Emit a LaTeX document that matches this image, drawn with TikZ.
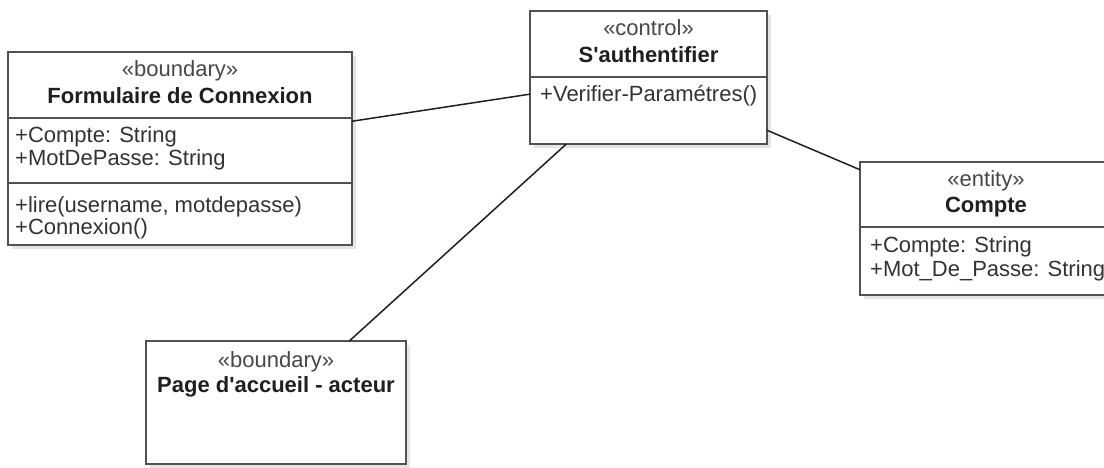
\documentclass[tikz,border=0pt]{standalone}
\usepackage{fontspec}
\setmainfont{Liberation Sans}
\usetikzlibrary{shadows}
\begin{document}
\begin{tikzpicture}[x=1pt,y=-1pt,
  classbox/.style={draw=black!68, line width=1.8pt, fill=white, rectangle,
    inner sep=0pt, outer sep=0pt,
    drop shadow={shadow xshift=4pt, shadow yshift=-4pt, opacity=0.10, fill=black}},
  divider/.style={draw=black!68, line width=1.8pt},
  assoc/.style={draw=black!88, line width=1.5pt},
  stereo/.style={anchor=base, inner sep=0pt, text=black!72, font=\fontsize{22}{23}\selectfont},
  cname/.style={anchor=base, inner sep=0pt, text=black!88, font=\fontsize{22}{23}\selectfont\bfseries},
  member/.style={anchor=base west, inner sep=0pt, text=black!80, font=\fontsize{22}{23}\selectfont}]
\useasboundingbox (0,0) rectangle (1104,468);

% class boxes
\node[classbox, anchor=north west, minimum width=344pt, minimum height=193pt] (form) at (8,52) {};
\node[classbox, anchor=north west, minimum width=237pt, minimum height=133pt] (auth) at (530,11) {};
\node[classbox, anchor=north west, minimum width=252pt, minimum height=133pt] (compte) at (860,162) {};
\node[classbox, anchor=north west, minimum width=260pt, minimum height=123pt] (page) at (146,341) {};

% compartment separators
\draw[divider] (form.west |- 0,118) -- (form.east |- 0,118);
\draw[divider] (form.west |- 0,183) -- (form.east |- 0,183);
\draw[divider] (auth.west |- 0,77) -- (auth.east |- 0,77);
\draw[divider] (compte.west |- 0,227) -- (compte.east |- 0,227);

% Formulaire de Connexion
\node[stereo] (formst) at (180,77) {«boundary»};
\node[cname] (formnm) at (180,104) {Formulaire de Connexion};
\node[member] (forma1) at (15,143) {+Compte: String};
\node[member] (forma2) at (15,166) {+MotDePasse: String};
\node[member] (formm1) at (15,212) {+lire(username, motdepasse)};
\node[member] (formm2) at (15,234) {+Connexion()};

% S'authentifier
\node[stereo] (authst) at (648.5,36) {«control»};
\node[cname] (authnm) at (648.5,63) {S\textquotesingle authentifier};
\node[member] (authm1) at (540,102) {+Verifier-Paramétres()};

% Compte
\node[stereo] (cptst) at (986,187) {«entity»};
\node[cname] (cptnm) at (986,213) {Compte};
\node[member] (cpta1) at (870,252) {+Compte: String};
\node[member] (cpta2) at (870,276) {+Mot\_De\_Passe: String};

% Page d'accueil - acteur
\node[stereo] (pagest) at (276,367) {«boundary»};
\node[cname] (pagenm) at (276,392) {Page d\textquotesingle accueil - acteur};

% associations
\draw[assoc] (form.9.4) -- (auth.188.4);
\draw[assoc] (auth.336.5) -- (compte.155.1);
\draw[assoc] (auth.219.9) -- (page.40.5);
\end{tikzpicture}
\end{document}
